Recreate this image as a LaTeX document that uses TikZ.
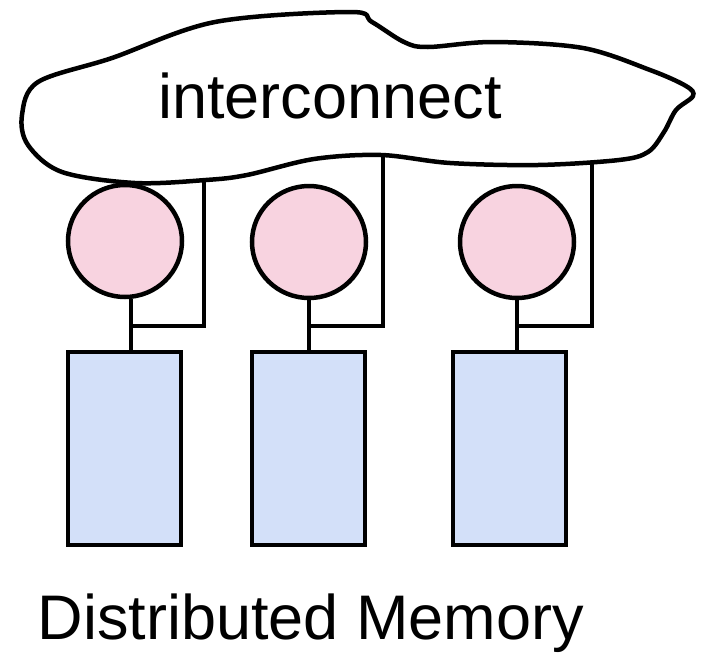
\documentclass[tikz,border=0pt]{standalone}
\usepackage{fontspec}
\setmainfont{Liberation Sans}
\usetikzlibrary{positioning}
\usetikzlibrary{shapes.geometric}
\definecolor{procpink}{HTML}{F8D3E0}
\definecolor{memblue}{HTML}{D3E0F9}
\tikzset{
  proc/.style={ellipse, draw, line width=4.5pt, fill=procpink, minimum width=114pt, minimum height=112pt, inner sep=0pt},
  mem/.style={rectangle, draw, line width=4.5pt, fill=memblue, minimum width=113pt, minimum height=193pt, inner sep=0pt},
  wire/.style={line width=4.5pt},
  bigtext/.style={font=\fontsize{63}{70}\selectfont, inner sep=0pt, anchor=base}
}

\begin{document}
\begin{tikzpicture}[x=1pt,y=-1pt]
        \useasboundingbox (0,0) rectangle (702,654);
        % Interconnect cloud
        \draw[line width=4.5pt] plot[smooth cycle, tension=0.55] coordinates {
          (22,115) (38,82) (112,58) (215,22) (350,12) (372,22) (404,42) (428,47)
          (493,42) (583,48) (650,70) (686,86) (693,96) (676,110) (664,132) (648,152)
          (619,160) (538,165) (450,163) (381,155) (314,159) (247,175) (206,180)
          (135,183) (62,172) (28,145)};
        \node[bigtext] (net) at (330,118) {interconnect};
        % Processors
        \node[proc] (p1) at (125,241) {};
        \node[proc] (p2) at (309,242) {};
        \node[proc] (p3) at (517,242) {};
        % Memories
        \node[mem] (m1) at (124.5,448.5) {};
        \node[mem] (m2) at (308.5,448.5) {};
        \node[mem] (m3) at (509.5,448.5) {};
        % Junctions on the cloud
        \coordinate (c1) at (204,181);
        \coordinate (c2) at (383,155);
        \coordinate (c3) at (592,161);
        \coordinate (j1) at (131,326);
        \coordinate (j2) at (309,326);
        \coordinate (j3) at (517,326);
        %
        % Links:
        \draw[wire] (p1.south -| j1) -- (m1.north -| j1);
        \draw[wire] (p2.south -| j2) -- (m2.north -| j2);
        \draw[wire] (p3.south -| j3) -- (m3.north -| j3);
        \draw[wire] (j1) -| (c1);
        \draw[wire] (j2) -| (c2);
        \draw[wire] (j3) -| (c3);
        \node[bigtext] (title) at (311,639) {Distributed Memory};
\end{tikzpicture}
\end{document}
